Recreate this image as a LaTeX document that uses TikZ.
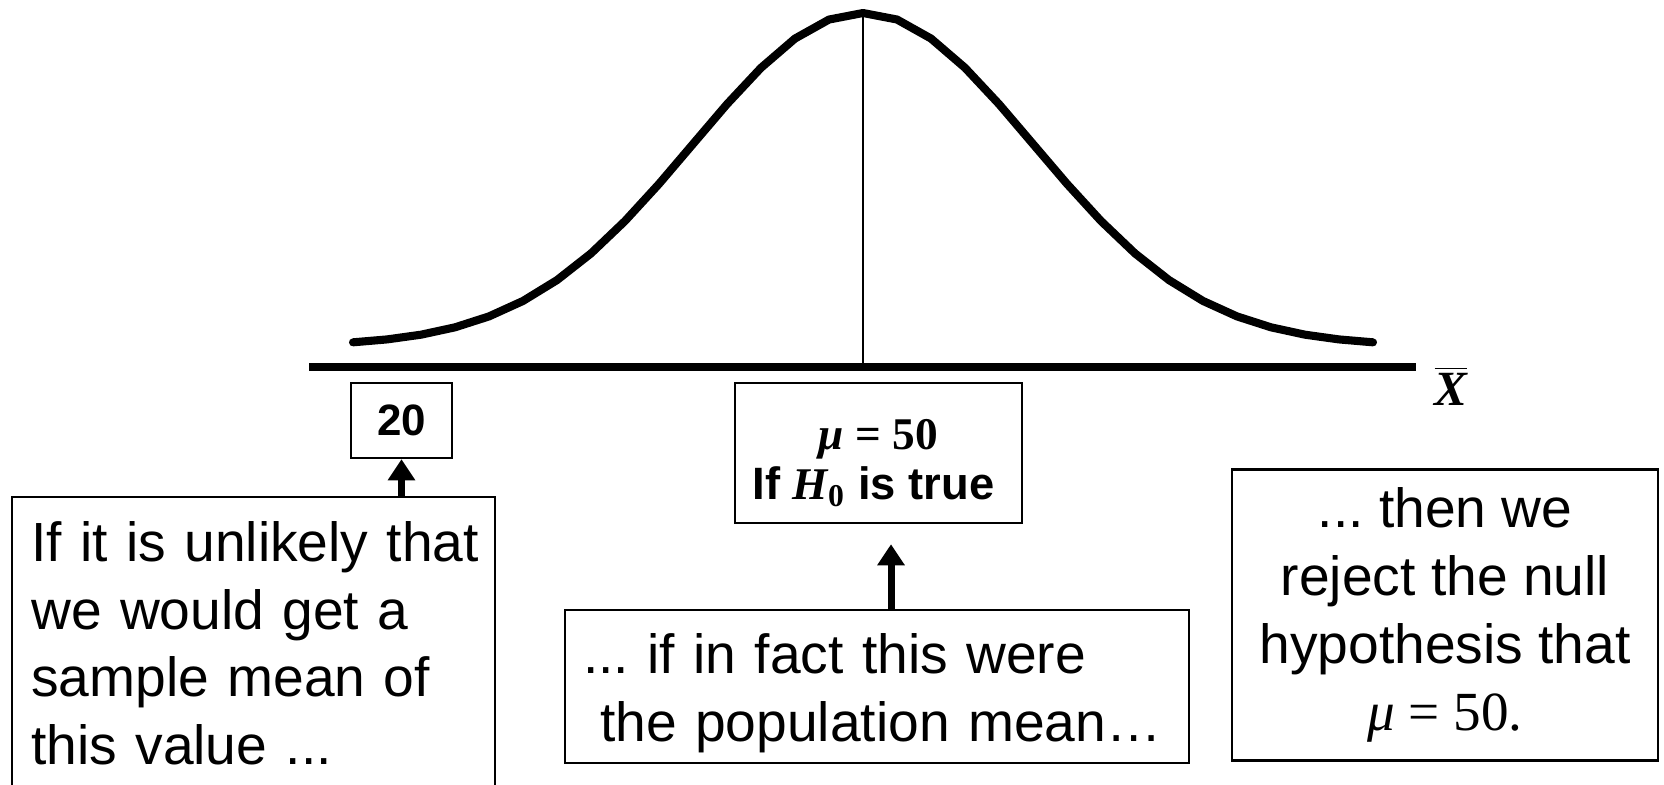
\documentclass[tikz,border=0pt]{standalone}
\usepackage{fontspec}
\setmainfont{Liberation Sans}
\newfontfamily\tnr{Liberation Serif}
\usetikzlibrary{arrows.meta}
\frenchspacing

\begin{document}
\begin{tikzpicture}[
    box/.style={draw, line width=0.7pt, inner sep=0pt},
    txt/.style={font=\fontsize{15.7}{19.3}\selectfont},
    up/.style={-{Triangle[width=7.5pt,length=6pt]}, line width=2pt},
    bell/.style={line width=2.3pt, line join=round, line cap=round}
  ]
  \useasboundingbox (0,0) rectangle (16.64,7.84);

  % axis and sampling distribution
  \draw[line width=2.3pt] (3.09,4.17) -- (14.16,4.17);
  \draw[bell] plot[domain=-3:3, samples=31] ({8.63+1.7*\x},{4.38+3.33*exp(-0.5*(\x)^2)});
  \draw[line width=0.6pt] (8.63,7.71) -- (8.63,4.17);
  \node[font=\fontsize{14}{16}\selectfont] (xbar) at (14.51,3.98) {$\overline{\hbox{\tnr\bfseries\itshape X}}$};

  \node[box, minimum width=1.01cm, minimum height=0.75cm, font=\bfseries\fontsize{12.5}{15}\selectfont] (val) at (4.015,3.635) {20};
  \node[box, minimum width=2.87cm, minimum height=1.40cm, align=center, font=\bfseries\fontsize{12.9}{14.4}\selectfont] (mu) at (8.785,3.31)
    {\rule{0pt}{0.5cm}{\tnr{\itshape μ} = 50}\\If {\tnr\itshape H}\textsubscript{\tnr 0} is true\hspace*{0.1cm}};

  \node[box, anchor=north west, text width=4.45cm, inner xsep=0.19cm, inner ysep=0.24cm, align=left, txt] (cond) at (0.11,2.88)
    {\mbox{If it is unlikely that}\\we would get a\\sample mean of\\this value ...\rule[-0.4cm]{0pt}{0.4cm}};
  \node[box, text width=5.88cm, inner xsep=0.18cm, minimum height=1.53cm, align=left, txt] (pop) at (8.77,0.975)
    {\rule{0pt}{0.54cm}... if in fact this were\\\hspace*{0.17cm}the population mean…};
  \node[box, minimum width=4.26cm, minimum height=2.91cm, align=center, txt] (rej) at (14.45,1.69)
    {... then we\\reject the null\\hypothesis that\\{\tnr{\itshape μ} = 50.}};

  \draw[up] (cond.north -| val.south) -- (val.south);
  \draw[up, shorten >=0.2cm] ([xshift=0.14cm]pop.north) -- ([xshift=0.14cm]pop.north |- mu.south);
\end{tikzpicture}
\end{document}
